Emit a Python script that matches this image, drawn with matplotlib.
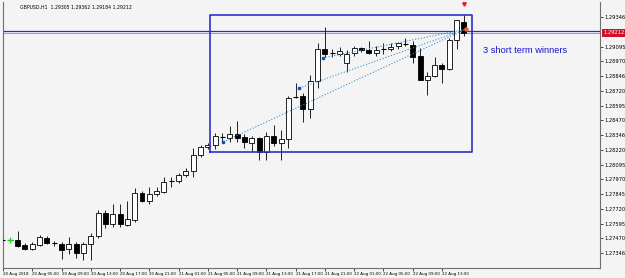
import matplotlib
matplotlib.use("Agg")
import matplotlib.pyplot as plt
import numpy as np

# hourly GBPUSD candles, bar 0 = 20 Aug 01:00
opens = [1.27456, 1.27456, 1.27456, 1.27414, 1.27380, 1.27414, 1.27473, 1.27431,
         1.27422, 1.27380, 1.27422, 1.27346, 1.27422, 1.27490, 1.27685, 1.27592,
         1.27677, 1.27583, 1.27626, 1.27855, 1.27787, 1.27846, 1.27863, 1.27956,
         1.27956, 1.28007, 1.28041, 1.28177, 1.28244, 1.28261, 1.28329, 1.28321,
         1.28355, 1.28329, 1.28278, 1.28321, 1.28202, 1.28338, 1.28278, 1.28312,
         1.28668, 1.28677, 1.28566, 1.28804, 1.29075, 1.29041, 1.29036, 1.28956,
         1.29041, 1.29083, 1.29067, 1.29041, 1.29075, 1.29075, 1.29100, 1.29117,
         1.29109, 1.29016, 1.28812, 1.28846, 1.28939, 1.28905, 1.29151, 1.29305]
highs = [1.27465, 1.27473, 1.27532, 1.27431, 1.27439, 1.27499, 1.27490, 1.27448,
         1.27439, 1.27482, 1.27439, 1.27439, 1.27516, 1.27710, 1.27710, 1.27761,
         1.27761, 1.27787, 1.27897, 1.27871, 1.27905, 1.27905, 1.27990, 1.27990,
         1.28024, 1.28066, 1.28236, 1.28261, 1.28278, 1.28363, 1.28363, 1.28422,
         1.28465, 1.28355, 1.28338, 1.28329, 1.28372, 1.28431, 1.28388, 1.28677,
         1.28787, 1.28702, 1.28855, 1.29126, 1.29261, 1.29075, 1.29092, 1.29067,
         1.29100, 1.29092, 1.29143, 1.29100, 1.29126, 1.29126, 1.29134, 1.29168,
         1.29143, 1.29083, 1.28880, 1.29007, 1.28956, 1.29168, 1.29321, 1.29362]
lows = [1.27448, 1.27448, 1.27397, 1.27371, 1.27371, 1.27405, 1.27422, 1.27405,
        1.27295, 1.27338, 1.27304, 1.27287, 1.27287, 1.27473, 1.27558, 1.27566,
        1.27566, 1.27575, 1.27609, 1.27778, 1.27761, 1.27829, 1.27855, 1.27905,
        1.27939, 1.27990, 1.27990, 1.28160, 1.28227, 1.28227, 1.28287, 1.28287,
        1.28287, 1.28236, 1.28202, 1.28134, 1.28134, 1.28253, 1.28134, 1.28236,
        1.28660, 1.28456, 1.28490, 1.28744, 1.29007, 1.29007, 1.29016, 1.28880,
        1.29016, 1.29050, 1.29033, 1.29016, 1.29033, 1.29058, 1.29075, 1.29100,
        1.28956, 1.28812, 1.28685, 1.28838, 1.28787, 1.28897, 1.29075, 1.29184]
closes = [1.27456, 1.27456, 1.27405, 1.27380, 1.27422, 1.27482, 1.27431, 1.27431,
          1.27371, 1.27422, 1.27346, 1.27422, 1.27490, 1.27685, 1.27592, 1.27677,
          1.27592, 1.27634, 1.27855, 1.27787, 1.27846, 1.27871, 1.27948, 1.27956,
          1.28007, 1.28041, 1.28177, 1.28244, 1.28261, 1.28338, 1.28329, 1.28355,
          1.28321, 1.28287, 1.28321, 1.28202, 1.28338, 1.28278, 1.28312, 1.28660,
          1.28668, 1.28566, 1.28804, 1.29075, 1.29033, 1.29041, 1.29058, 1.29033,
          1.29083, 1.29067, 1.29041, 1.29067, 1.29075, 1.29092, 1.29126, 1.29117,
          1.29007, 1.28812, 1.28846, 1.28939, 1.28905, 1.29151, 1.29321, 1.29212]

x_labels = ["20 Aug 2018", "20 Aug 05:00", "20 Aug 09:00", "20 Aug 13:00",
            "20 Aug 17:00", "20 Aug 21:00", "21 Aug 01:00", "21 Aug 05:00",
            "21 Aug 09:00", "21 Aug 13:00", "21 Aug 17:00", "21 Aug 21:00",
            "22 Aug 01:00", "22 Aug 05:00", "22 Aug 09:00", "22 Aug 13:00"]
y_ticks = [1.27346, 1.27470, 1.27595, 1.27720, 1.27845, 1.27970, 1.28095, 1.28220,
           1.28346, 1.28470, 1.28595, 1.28720, 1.28846, 1.28970, 1.29095, 1.29346]

# trade objects drawn on the chart
entry_x = [30.1, 40.5, 43.7]
entry_p = [1.28287, 1.28744, 1.28999]
exit_x, exit_p = 63.25, 1.29242
box_x = [28.25, 64.1]
box_p = [1.28202, 1.29363]
hline_p = 1.29226
bid = 1.29212
header = "GBPUSD,H1  1.29305 1.29362 1.29184 1.29212"

BG = "#f4f4f4"
fig = plt.figure(figsize=(6.25, 2.78), dpi=100, facecolor=BG)
ax = fig.add_axes([3 / 625, 10 / 278, 597 / 625, 266 / 278], facecolor=BG)

o = np.array(opens); h = np.array(highs); l = np.array(lows); c = np.array(closes)
k = np.arange(len(o))
ax.vlines(k, l, h, color="#202020", lw=0.7, zorder=2)
up = c > o
dn = c < o
w = 0.68
ax.bar(k[up], (c - o)[up], bottom=o[up], width=w, color="white",
       edgecolor="black", lw=0.6, zorder=3)
ax.bar(k[dn], (o - c)[dn], bottom=c[dn], width=w, color="black",
       edgecolor="black", lw=0.6, zorder=3)
dj = ~(up | dn)
ax.hlines(o[dj], k[dj] - w / 2, k[dj] + w / 2, color="black", lw=0.8, zorder=3)
ax.plot([1], [opens[1]], "+", color="#22cc22", ms=5, mew=0.9, zorder=4)

# horizontal line, bid line and rectangle
ax.axhline(hline_p, color="#2828d8", lw=0.9, zorder=1)
ax.axhline(bid, color="#e05060", lw=0.5, zorder=1)
ax.plot([box_x[0], box_x[1], box_x[1], box_x[0], box_x[0]],
        [box_p[0], box_p[0], box_p[1], box_p[1], box_p[0]],
        color="#3030cc", lw=1.2, zorder=5)

for ex, ep in zip(entry_x, entry_p):
    ax.plot([ex, exit_x], [ep, exit_p], ":", color="#3d8ec9", lw=0.8, zorder=4)
    ax.plot([ex], [ep], "s", color="#1050d0", ms=1.8, zorder=6)
ax.plot([exit_x], [exit_p], "o", color="#ff5a30", ms=2.2, zorder=6)
ax.plot([63], [1.29460], "v", color="#e02020", ms=2.5, zorder=6)
ax.text(65.6, 1.29066, "3 short term winners", color="#1515cc",
        fontsize=6.7, family="Liberation Sans", va="center", ha="left")

ax.set_xlim(0.14, 81.6)
ax.set_ylim(1.27219, 1.29473)

ax.set_xticks(np.arange(0, 4 * len(x_labels), 4))
ax.set_xticklabels(x_labels)
for t in ax.get_xticklabels():
    t.set_horizontalalignment("left")
ax.tick_params(axis="x", labelsize=2.9, length=2, pad=1, width=0.5)
ax.yaxis.tick_right()
ax.set_yticks(y_ticks)
ax.set_yticklabels([f"{v:.5f}" for v in y_ticks])
ax.tick_params(axis="y", labelsize=3.7, length=2, pad=1, width=0.5)

ax.text(1.005, (bid - 1.27219) / (1.29473 - 1.27219), f"{bid:.5f}",
        transform=ax.transAxes, fontsize=3.7, color="white", va="center",
        ha="left", bbox=dict(boxstyle="square,pad=0.25", fc="#d01028", ec="none"))

for s in ["left", "bottom", "right"]:
    ax.spines[s].set_color("#707070")
    ax.spines[s].set_linewidth(0.8)
ax.spines["top"].set_visible(False)

fig.text(20 / 625, 1 - 7 / 278, header, fontsize=3.3, va="center", ha="left")

fig.savefig("out.png", dpi=100, facecolor=BG)
